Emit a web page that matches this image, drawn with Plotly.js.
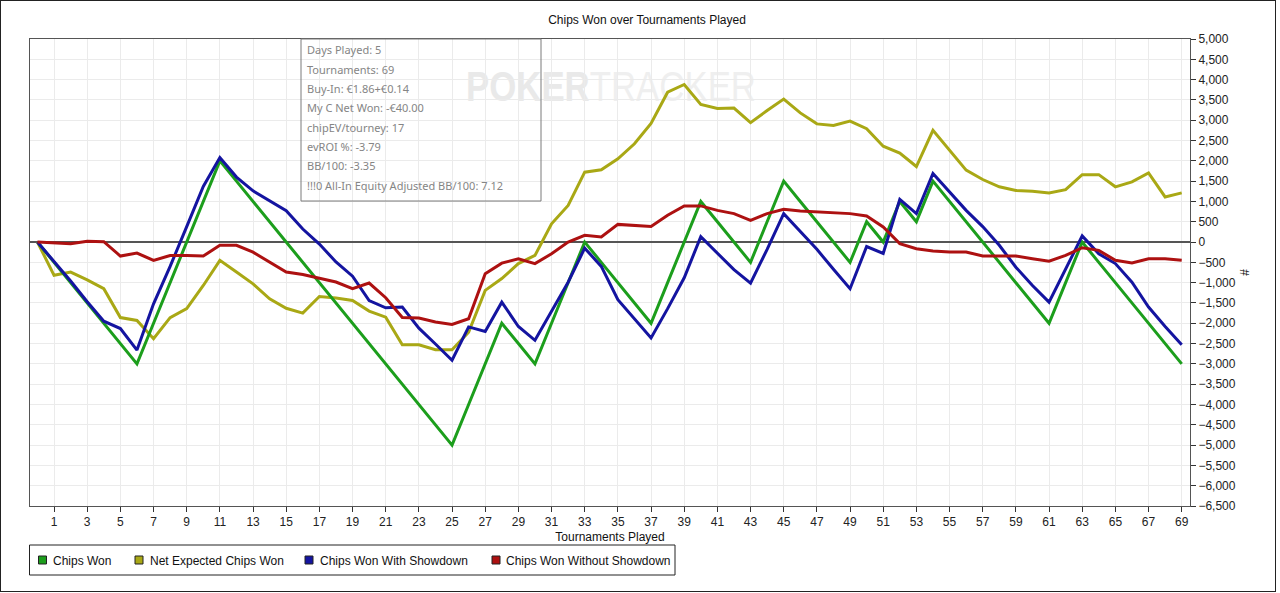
<!DOCTYPE html>
<html>
<head>
<meta charset="utf-8">
<script src="https://cdn.plot.ly/plotly-3.0.1.min.js"></script>
<style>
  html, body { margin: 0; padding: 0; background: #fff; }
  #wrap { position: relative; width: 1280px; height: 593px; }
  #chart { width: 1280px; height: 593px; }
  #frame { position: absolute; left: 0; top: 0; width: 1274px; height: 590px; border: 1px solid #222; pointer-events: none; }
</style>
</head>
<body>
<div id="wrap"><div id="chart"></div><div id="frame"></div></div>
<script>
// ---- data ----
const tournaments = Array.from({length: 70}, (_, i) => i); // 0..69

const chipsWon = [0,-500,-1000,-1500,-2000,-2500,-3000,-2000,-1000,0,
  1000,2000,1500,1000,500,0,-500,-1000,-1500,-2000,
  -2500,-3000,-3500,-4000,-4500,-5000,-4000,-3000,-2000,-2500,
  -3000,-2000,-1000,0,-500,-1000,-1500,-2000,-1000,0,
  1000,500,0,-500,500,1500,1000,500,0,-500,
  500,0,1000,500,1500,1000,500,0,-500,-1000,
  -1500,-2000,-1000,0,-500,-1000,-1500,-2000,-2500,-3000];

const netExpected = [0,-820,-740,-930,-1150,-1860,-1930,-2380,-1860,-1640,
  -1070,-450,-740,-1030,-1400,-1630,-1750,-1340,-1380,-1440,
  -1700,-1850,-2530,-2530,-2650,-2650,-2220,-1190,-900,-530,
  -330,450,900,1720,1780,2050,2420,2920,3690,3880,
  3390,3290,3300,2940,3240,3520,3180,2910,2870,2980,
  2790,2360,2190,1860,2750,2260,1770,1540,1360,1270,
  1250,1210,1290,1660,1660,1360,1480,1700,1110,1210];

const withShowdown = [0,-470,-960,-1470,-1950,-2130,-2660,-1520,-600,380,
  1370,2080,1600,1260,1010,770,320,-50,-490,-840,
  -1440,-1620,-1600,-2120,-2510,-2910,-2090,-2200,-1480,-2080,
  -2420,-1690,-990,-150,-600,-1420,-1900,-2360,-1640,-880,
  130,-270,-680,-1010,-180,700,250,-180,-670,-1150,
  -110,-280,1050,700,1690,1230,780,380,-80,-620,
  -1070,-1480,-650,150,-290,-530,-990,-1600,-2080,-2530];

const withoutShowdown = [0,-25,-40,20,10,-345,-270,-450,-330,-330,
  -345,-80,-80,-250,-490,-740,-800,-900,-985,-1150,
  -1010,-1370,-1860,-1870,-1970,-2030,-1890,-780,-520,-410,
  -530,-290,0,165,125,435,410,385,660,890,
  890,780,700,535,700,805,765,740,715,700,
  640,370,-40,-165,-220,-245,-245,-345,-345,-345,
  -410,-470,-330,-140,-205,-450,-515,-410,-410,-450];

const seriesNames = ["Chips Won", "Net Expected Chips Won", "Chips Won With Showdown", "Chips Won Without Showdown"];
const seriesColors = ["#1c9e1c", "#a9a815", "#1414a0", "#ad1111"];
const seriesValues = [chipsWon, netExpected, withShowdown, withoutShowdown];

const infoLines = ["Days Played: 5", "Tournaments: 69", "Buy-In: €1.86+€0.14", "My C Net Won: -€40.00",
  "chipEV/tourney: 17", "evROI %: -3.79", "BB/100: -3.35", "!!!0 All-In Equity Adjusted BB/100: 7.12"];

// ---- layout helpers (pixel -> paper) ----
const W = 1280, H = 593, ML = 30, MR = 90, MT = 39, MB = 87;
const PW = W - ML - MR, PH = H - MT - MB;
const px = x => (x - ML) / PW;
const py = y => (H - MB - y) / PH;

const FONT = "Liberation Sans, Arial, sans-serif";

const traces = [];
// draw order: olive, green, blue, red (red on top)
[1, 0, 2, 3].forEach(i => {
  traces.push({
    x: tournaments, y: seriesValues[i], type: "scatter", mode: "lines", name: seriesNames[i],
    line: {color: seriesColors[i], width: 3}, showlegend: false, hoverinfo: "skip"
  });
});

// ---- info box text ----
const annotations = infoLines.map((t, k) => ({
  xref: "paper", yref: "paper", x: px(305), y: py(50 + k * 19.3),
  xanchor: "left", yanchor: "middle", showarrow: false, text: t,
  font: {family: "Noto Sans, Open Sans, sans-serif", size: 11, color: "#858585"}
}));

// ---- legend (boxed row of square swatches) ----
const legendSwatchX = [38.5, 135, 305, 492];
const legendTextX = [51, 148, 318, 504];
const legendShapes = [{
  type: "rect", xref: "paper", yref: "paper", x0: px(29.5), x1: px(675), y0: py(575), y1: py(545),
  fillcolor: "rgba(0,0,0,0)", line: {color: "#222", width: 1}, layer: "above"
}];
seriesNames.forEach((n, i) => {
  legendShapes.push({
    type: "rect", xref: "paper", yref: "paper",
    x0: px(legendSwatchX[i]), x1: px(legendSwatchX[i] + 8), y0: py(564), y1: py(556),
    fillcolor: seriesColors[i], line: {color: "#222", width: 1}, layer: "above"
  });
  annotations.push({
    xref: "paper", yref: "paper", x: px(legendTextX[i]), y: py(560.5),
    xanchor: "left", yanchor: "middle", showarrow: false, text: n,
    font: {family: FONT, size: 12, color: "#111"}
  });
});

const wm = "<svg xmlns='http://www.w3.org/2000/svg' width='292' height='36'>" +
  "<text x='0' y='33' font-family='Liberation Sans, Arial' font-size='42' textLength='290' lengthAdjust='spacingAndGlyphs'>" +
  "<tspan font-weight='bold' fill='#e9e9e9'>POKER</tspan><tspan fill='#efefef'>TRACKER</tspan></text></svg>";

const layout = {
  width: W, height: H,
  margin: {l: ML, r: MR, t: MT, b: MB, pad: 0},
  paper_bgcolor: "#fff", plot_bgcolor: "#fff",
  font: {family: FONT, size: 12, color: "#222"},
  title: {text: "Chips Won over Tournaments Played", x: 647 / W, xref: "container", xanchor: "center",
          y: 1 - 20 / H, yref: "container", yanchor: "middle", font: {family: FONT, size: 12, color: "#111"}},
  xaxis: {
    range: [-0.45, 69.5], tick0: 1, dtick: 2, tickmode: "linear",
    showgrid: true, gridcolor: "#ebebeb", gridwidth: 1, zeroline: false,
    showline: true, linecolor: "#555", linewidth: 1, mirror: true,
    ticks: "outside", ticklen: 5, tickcolor: "#333",
    tickfont: {family: FONT, size: 12, color: "#222"},
    title: {text: "Tournaments Played", standoff: 4, font: {family: FONT, size: 12, color: "#111"}},
    automargin: false
  },
  yaxis: {
    side: "right", range: [-6500, 5000], tick0: 0, dtick: 500, tickmode: "linear",
    tickformat: ",d", showgrid: true, gridcolor: "#ebebeb", gridwidth: 1,
    zeroline: true, zerolinecolor: "#555", zerolinewidth: 1.5,
    showline: true, linecolor: "#555", linewidth: 1, mirror: true,
    ticks: "outside", ticklen: 5, tickcolor: "#333",
    tickfont: {family: FONT, size: 12, color: "#222"},
    title: {text: "#", standoff: 5, font: {family: FONT, size: 12, color: "#111"}},
    automargin: false
  },
  showlegend: false,
  shapes: [{
    type: "rect", xref: "paper", yref: "paper", x0: px(301), x1: px(541), y0: py(201), y1: 1,
    fillcolor: "rgba(0,0,0,0)", line: {color: "#7a7a7a", width: 1}, layer: "above"
  }].concat(legendShapes),
  images: [{
    source: "data:image/svg+xml;charset=utf-8," + encodeURIComponent(wm),
    xref: "paper", yref: "paper", x: px(466), y: py(68), sizex: 292 / PW, sizey: 36 / PH,
    xanchor: "left", yanchor: "top", sizing: "stretch", layer: "below"
  }],
  annotations: annotations,
  hovermode: false
};

Plotly.newPlot("chart", traces, layout, {displayModeBar: false, staticPlot: true});
</script>
</body>
</html>
